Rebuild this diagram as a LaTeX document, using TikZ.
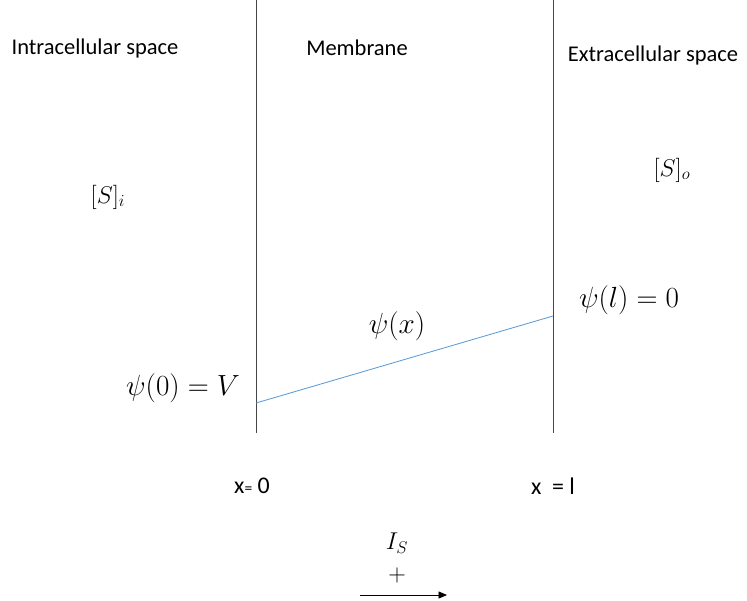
\documentclass[tikz,border=0pt]{standalone}
\usepackage{fontspec}
\setmainfont{Carlito}
\usepackage{tikz}
\usetikzlibrary{positioning,arrows.meta}
\definecolor{wallgrey}{RGB}{70,70,70}
\definecolor{potblue}{RGB}{91,155,213}

\begin{document}
\begin{tikzpicture}[
  x=0.025cm, y=-0.025cm,
  wall/.style={draw=wallgrey,line width=0.6pt},
  region/.style={inner sep=1pt,font=\fontsize{16}{19}\selectfont},
  xlbl/.style={inner sep=1pt,font=\fontsize{17}{20}\selectfont},
  mathlbl/.style={inner sep=1pt,font=\fontsize{20.5}{24}\selectfont},
  conclbl/.style={inner sep=1pt,font=\fontsize{17.5}{20}\selectfont}
]
  \useasboundingbox (0,0) rectangle (747,600);

  % membrane walls
  \coordinate (lt) at (256,0);
  \coordinate (lb) at (256,433);
  \coordinate (rt) at (553,0);
  \coordinate (rb) at (553,433);
  \draw[wall] (lt) -- (lb);
  \draw[wall] (rt) -- (rb);

  % potential profile
  \coordinate (psi0) at (256,403);
  \coordinate (psil) at (553,316);
  \draw[potblue,line width=0.6pt] (psi0) -- (psil);

  \node[region] (intra) at (95,48) {Intracellular space};
  \node[region] (memb) at (357,48) {Membrane};
  \node[region] (extra) at (653,55) {Extracellular space};

  \node[conclbl] (si) at (108,197) {$[S]_i$};
  \node[conclbl] (so) at (672,170) {$[S]_o$};
  \node[mathlbl] (psiL) at (629,300) {$\psi(l)=0$};
  \node[mathlbl] (psiX) at (397,326) {$\psi(x)$};
  \node[mathlbl] (psiV) at (183,388) {$\psi(0)=V$};

  \node[xlbl] (x0) at (252,486) {x{\fontsize{11}{12}\selectfont=} 0};
  \node[xlbl] (xl) at (553,486) {x~~= l};

  \node[conclbl] (cur) at (397,543) {$I_S$};
  \node[conclbl] (plus) at (397,575) {$+$};
  \coordinate (as) at (360,595);
  \coordinate (ae) at (447,595);
  \draw[-{Triangle[length=6pt,width=5pt]},line width=0.6pt] (as) -- (ae);
\end{tikzpicture}
\end{document}
